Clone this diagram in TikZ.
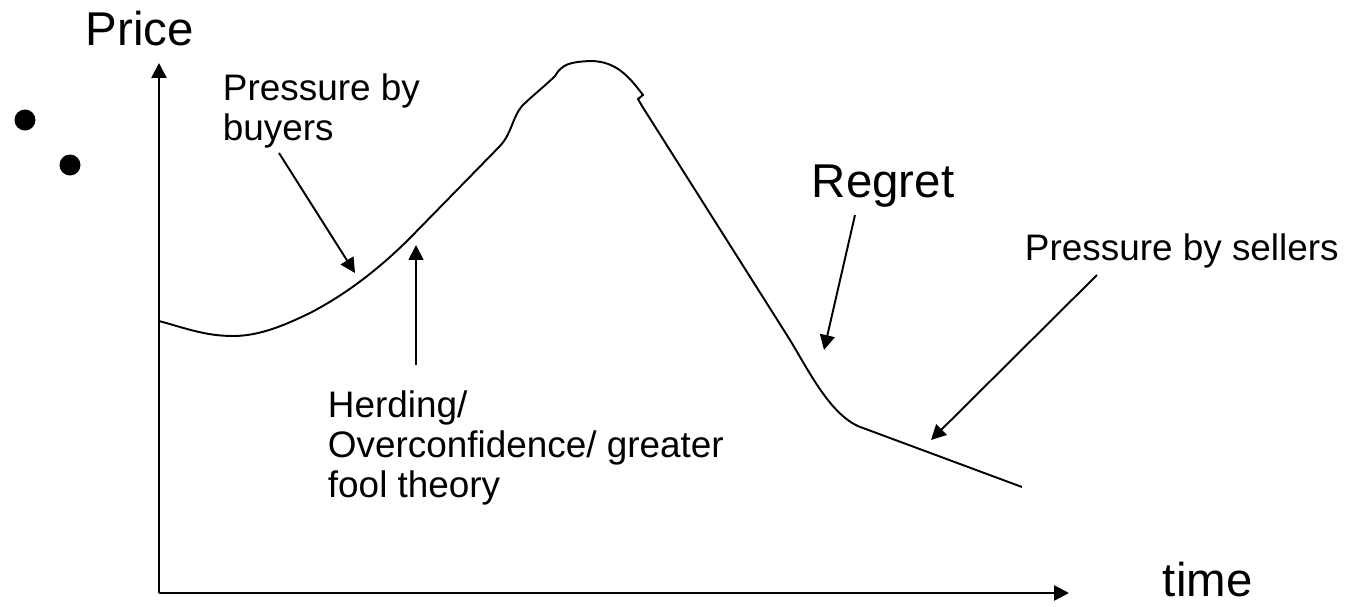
\documentclass[tikz,border=0pt]{standalone}
\usepackage{fontspec}
\setmainfont{Liberation Sans}
\usetikzlibrary{arrows.meta}
\tikzset{every picture/.style={line width=1.1pt}}
\tikzset{
  bigtext/.style={font=\fontsize{27}{30}\selectfont, inner sep=0pt, anchor=base west},
  smalltext/.style={font=\fontsize{21}{22.5}\selectfont, inner sep=0pt, anchor=base west, align=left},
  pointer/.style={-{Triangle[length=8.5pt,width=8.5pt]}},
  axis/.style={line width=1.4pt, -{Triangle[length=8.5pt,width=8.5pt]}}
}

\begin{document}
\begin{tikzpicture}[x=0.02cm,y=-0.02cm]
    \useasboundingbox (0,0) rectangle (1347,606);
    % Axes
    \coordinate (origin) at (159,593);
    \coordinate (ytop) at (159,63);
    \coordinate (xend) at (1069,593);
    \draw[axis] (origin) -- (ytop);
    \draw[axis] (origin) -- (xend);
    \node[bigtext] (price) at (85,45) {Price};
    \node[bigtext] (time) at (1162,596) {time};
    % Bullets
    \fill (25,120) circle (10.5);
    \fill (70,165) circle (10.5);
    % Price path
    \draw (159,321) .. controls (185,328) and (205,336) .. (233,336)
        .. controls (260,336) and (285,325) .. (310,313)
        .. controls (335,300) and (370,278) .. (410,238)
        -- (500,146)
        .. controls (512,133) and (512,118) .. (522,106)
        .. controls (532,96) and (545,86) .. (555,76)
        .. controls (562,64) and (570,62) .. (590,61)
        .. controls (615,61) and (628,75) .. (643,95)
        -- (638,99) -- (642,106) -- (790,340)
        .. controls (810,373) and (832,418) .. (863,428)
        -- (1022,487);
    % Labels (first baseline sits one line above the anchor)
    \node[smalltext] (buyers) at (222,140) {Pressure by\\buyers};
    \node[smalltext] (herding) at (327,497) {Herding/\\Overconfidence/ greater\\fool theory};
    \node[bigtext] (regret) at (811,197) {Regret};
    \node[smalltext] (sellers) at (1024,260) {Pressure by sellers};
    % Pointers
    \coordinate (buyersfrom) at (279,153);
    \coordinate (buyersto) at (355,273);
    \coordinate (herdingfrom) at (416,365);
    \coordinate (herdingto) at (416,245);
    \coordinate (regretfrom) at (855,215);
    \coordinate (regretto) at (824,350);
    \coordinate (sellersfrom) at (1097,275);
    \coordinate (sellersto) at (931,440);
    \draw[pointer] (buyersfrom) -- (buyersto);
    \draw[pointer] (herdingfrom) -- (herdingto);
    \draw[pointer] (regretfrom) -- (regretto);
    \draw[pointer] (sellersfrom) -- (sellersto);
\end{tikzpicture}
\end{document}
